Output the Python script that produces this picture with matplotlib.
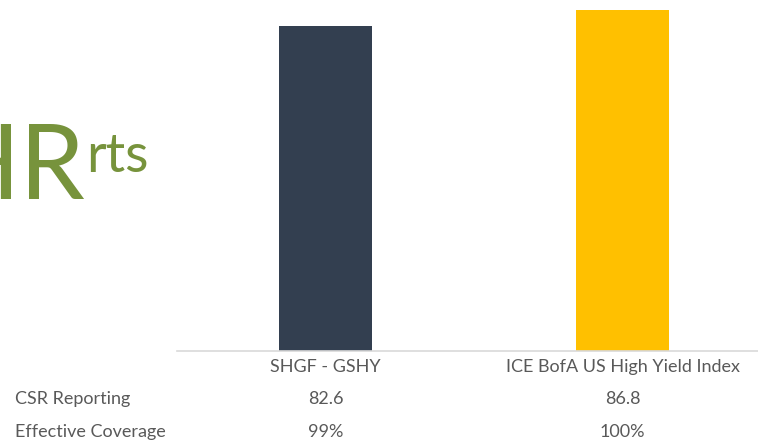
import matplotlib
matplotlib.use("Agg")
import matplotlib.pyplot as plt
import matplotlib.transforms as mtransforms

categories = ["SHGF - GSHY", "ICE BofA US High Yield Index"]
csr_reporting = [82.6, 86.8]
effective_coverage = ["99%", "100%"]
row_labels = ["CSR Reporting", "Effective Coverage"]
bar_colors = ["#333F50", "#FFC000"]

plt.rcParams['font.family'] = ['Lato', 'DejaVu Sans']

W, H = 758, 440
fig = plt.figure(figsize=(W / 100, H / 100), dpi=100)

ax = fig.add_axes([177 / W, (H - 350.5) / H, (W - 177) / W, 350.5 / H])

x = list(range(len(categories)))
ax.bar(x, csr_reporting, width=0.316, color=bar_colors, zorder=2)
ax.set_xlim(-0.5, -0.5 + (W - 177) / 297)
ax.set_ylim(0, 89.35)
for s in ["top", "right", "left"]:
    ax.spines[s].set_visible(False)
ax.spines["bottom"].set_color("#D9D9D9")
ax.spines["bottom"].set_linewidth(1.2)
ax.set_yticks([])
ax.set_xticks([])

txt_color = "#595959"
fs = 13


def fig_y(py):
    return 1 - py / H


blend = mtransforms.blended_transform_factory(ax.transData, fig.transFigure)
for i, cat in enumerate(categories):
    ax.text(i, fig_y(367), cat, transform=blend, ha="center", va="center",
            fontsize=fs, color=txt_color)
    ax.text(i, fig_y(399), f"{csr_reporting[i]}", transform=blend, ha="center", va="center",
            fontsize=fs, color=txt_color)
    ax.text(i, fig_y(432), effective_coverage[i], transform=blend, ha="center", va="center",
            fontsize=fs, color=txt_color)

fig.text(15 / W, fig_y(399), row_labels[0], ha="left", va="center", fontsize=fs, color=txt_color)
fig.text(15 / W, fig_y(432), row_labels[1], ha="left", va="center", fontsize=fs, color=txt_color)

green = "#77933C"
fig.text(85 / W, fig_y(199), "HR", ha="right", va="baseline", fontsize=75, color=green)
fig.text(86 / W, fig_y(172), "rts", ha="left", va="baseline", fontsize=39, color=green)

fig.savefig("out.png", dpi=100)
